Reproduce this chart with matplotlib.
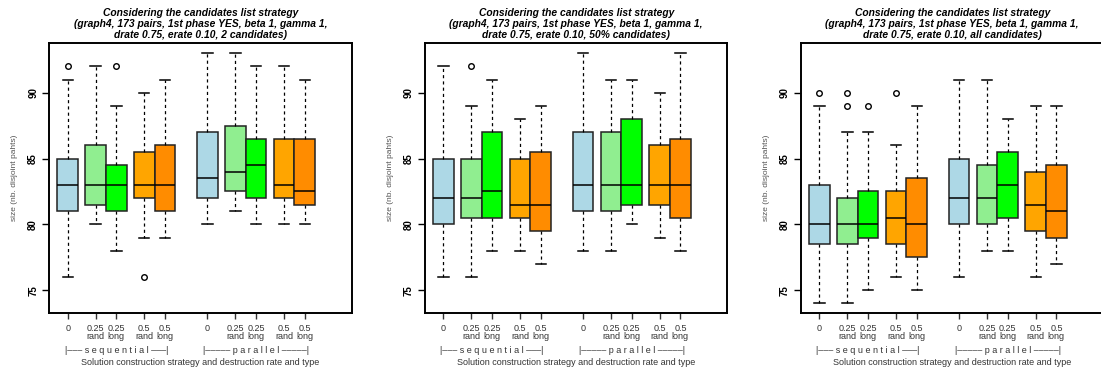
import matplotlib.pyplot as plt
import numpy as np

plt.rcParams['font.family'] = ['Liberation Sans', 'DejaVu Sans']

# box layout: seq (0, .25 rand, .25 long, .5 rand, .5 long) then par (same)
positions = [1, 2.35, 3.35, 4.7, 5.7, 7.75, 9.1, 10.1, 11.45, 12.45]
colors = ['#ADD8E6', '#90EE90', '#00FF00', '#FFA500', '#FF8C00'] * 2
tick_labels = ['0', '0.25\nrand', '0.25\nlong', '0.5\nrand', '0.5\nlong'] * 2

titles = ['2 candidates', '50% candidates', 'all candidates']

# panel 1: 2 candidates
p1_lo = [76, 80, 78, 79, 79, 80, 81, 80, 80, 80]
p1_q1 = [81, 81.5, 81, 82, 81, 82, 82.5, 82, 82, 81.5]
p1_med = [83, 83, 83, 83, 83, 83.5, 84, 84.5, 83, 82.5]
p1_q3 = [85, 86, 84.5, 85.5, 86, 87, 87.5, 86.5, 86.5, 86.5]
p1_hi = [91, 92, 89, 90, 91, 93, 93, 92, 92, 91]
p1_out = [[92], [], [92], [76], [], [], [], [], [], []]

# panel 2: 50% candidates
p2_lo = [76, 76, 78, 78, 77, 78, 78, 80, 79, 78]
p2_q1 = [80, 80.5, 80.5, 80.5, 79.5, 81, 81, 81.5, 81.5, 80.5]
p2_med = [82, 82, 82.5, 81.5, 81.5, 83, 83, 83, 83, 83]
p2_q3 = [85, 85, 87, 85, 85.5, 87, 87, 88, 86, 86.5]
p2_hi = [92, 89, 91, 88, 89, 93, 91, 91, 90, 93]
p2_out = [[], [92], [], [], [], [], [], [], [], []]

# panel 3: all candidates
p3_lo = [74, 74, 75, 76, 75, 76, 78, 78, 76, 77]
p3_q1 = [78.5, 78.5, 79, 78.5, 77.5, 80, 80, 80.5, 79.5, 79]
p3_med = [80, 80, 80, 80.5, 80, 82, 82, 83, 81.5, 81]
p3_q3 = [83, 82, 82.5, 82.5, 83.5, 85, 84.5, 85.5, 84, 84.5]
p3_hi = [89, 87, 87, 86, 89, 91, 91, 88, 89, 89]
p3_out = [[90], [90, 89], [89], [90], [], [], [], [], [], []]

panels = [
    (p1_lo, p1_q1, p1_med, p1_q3, p1_hi, p1_out),
    (p2_lo, p2_q1, p2_med, p2_q3, p2_hi, p2_out),
    (p3_lo, p3_q1, p3_med, p3_q3, p3_hi, p3_out),
]

W, H = 1101, 372
fig = plt.figure(figsize=(W / 100, H / 100), dpi=100)

ax_left = [49.3, 425.0, 801.0]
ax_w, ax_top, ax_bot = 302.4, 43.3, 313.3

for k, (lo, q1, med, q3, hi, out) in enumerate(panels):
    ax = fig.add_axes([ax_left[k] / W, (H - ax_bot) / H, ax_w / W, (ax_bot - ax_top) / H])
    stats = []
    for i in range(len(positions)):
        stats.append(dict(whislo=lo[i], q1=q1[i], med=med[i], q3=q3[i],
                          whishi=hi[i], fliers=out[i]))
    bp = ax.bxp(stats, positions=positions, widths=1.0, patch_artist=True,
                showfliers=True, capwidths=0.5,
                boxprops=dict(edgecolor='#222222', linewidth=1.1),
                medianprops=dict(color='black', linewidth=1.1),
                whiskerprops=dict(color='black', linestyle=(0, (2.5, 2.5)), linewidth=0.9),
                capprops=dict(color='black', linewidth=1.1),
                flierprops=dict(marker='o', markersize=4, markerfacecolor='none',
                                markeredgecolor='black', markeredgewidth=1.0))
    for patch, c in zip(bp['boxes'], colors):
        patch.set_facecolor(c)

    ax.set_xlim(0.11, 14.72)
    ax.set_ylim(73.24, 93.76)
    for s in ax.spines.values():
        s.set_linewidth(1.4)

    ax.set_yticks([75, 80, 85, 90])
    ax.set_yticklabels(['75', '80', '85', '90'], rotation=90, va='center',
                       fontsize=7, fontweight='bold')
    ax.tick_params(axis='y', length=5, width=1.0, pad=3)

    ax.set_xticks(positions)
    ax.set_xticklabels(tick_labels, fontsize=6.5, color='#333333', linespacing=0.95)
    ax.tick_params(axis='x', length=4, width=1.0, pad=3.5, colors='#333333')

    ax.set_ylabel('size (nb. disjoint pahts)', fontsize=6, color='#555555', labelpad=7)

    # group labels under the tick labels
    ax.text(positions[2], -0.137, '|\u2013\u2013\u2013 s e q u e n t i a l \u2013\u2013\u2013|',
            transform=ax.get_xaxis_transform(), ha='center', va='center',
            fontsize=6.5, color='#333333')
    ax.text(positions[7], -0.137, '|\u2013\u2013\u2013\u2013\u2013 p a r a l l e l \u2013\u2013\u2013\u2013\u2013|',
            transform=ax.get_xaxis_transform(), ha='center', va='center',
            fontsize=6.5, color='#333333')
    ax.text(0.5, -0.183, 'Solution construction strategy and destruction rate and type',
            transform=ax.transAxes, ha='center', va='center',
            fontsize=6.5, color='#333333')

    ax.set_title('Considering the candidates list strategy\n'
                  '(graph4, 173 pairs, 1st phase YES, beta 1, gamma 1,\n'
                  'drate 0.75, erate 0.10, ' + titles[k] + ')',
                  fontsize=7.4, fontweight='bold', fontstyle='italic',
                  linespacing=1.1, pad=4)

fig.savefig('out.png', dpi=100)
